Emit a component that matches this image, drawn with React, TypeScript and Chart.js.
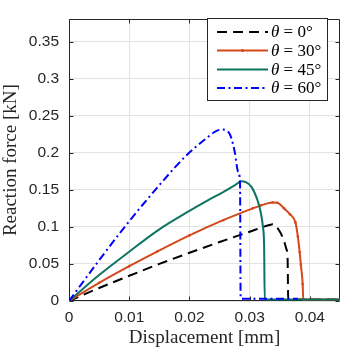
import React, { useEffect, useRef } from "react";
import { Chart, registerables } from "chart.js";

Chart.register(...registerables);

// ---- data ----
const xTicks = [0, 0.01, 0.02, 0.03, 0.04];
const yTicks = [0, 0.05, 0.1, 0.15, 0.2, 0.25, 0.3, 0.35];
const legendAngles = ["0", "30", "45", "60"];

const theta0X = [0, 0.005, 0.01, 0.015, 0.02, 0.025, 0.03, 0.0321, 0.0333, 0.0338, 0.0349, 0.0357, 0.0361, 0.0363, 0.0364, 0.045];
const theta0Y = [0, 0.0175, 0.034, 0.05, 0.065, 0.0795, 0.0935, 0.0995, 0.1025, 0.1035, 0.095, 0.081, 0.07, 0.057, 0.002, 0.002];

const theta30X = [0, 0.005, 0.01, 0.0147, 0.02, 0.0256, 0.0305, 0.0319, 0.0338, 0.0346, 0.0357, 0.0367, 0.0376, 0.038, 0.0383, 0.0385, 0.0388, 0.0389, 0.045];
const theta30Y = [0, 0.0245, 0.047, 0.067, 0.0885, 0.109, 0.125, 0.129, 0.133, 0.1325, 0.125, 0.117, 0.106, 0.087, 0.066, 0.049, 0.023, 0.002, 0.002];

const theta45X = [0, 0.005, 0.01, 0.0147, 0.02, 0.0229, 0.0256, 0.0275, 0.0286, 0.0293, 0.0303, 0.0313, 0.0319, 0.0322, 0.0324, 0.0325, 0.045];
const theta45Y = [0, 0.035, 0.0665, 0.095, 0.1215, 0.135, 0.147, 0.156, 0.1615, 0.1605, 0.154, 0.136, 0.117, 0.1, 0.074, 0.002, 0.002];

const theta60X = [0, 0.005, 0.0092, 0.0122, 0.0155, 0.0174, 0.0193, 0.0225, 0.0245, 0.0254, 0.0267, 0.0275, 0.0281, 0.0284, 0.0285, 0.0288, 0.038];
const theta60Y = [0, 0.055, 0.0994, 0.1295, 0.161, 0.1785, 0.195, 0.2175, 0.2295, 0.2312, 0.225, 0.202, 0.174, 0.159, 0.004, 0.003, 0.003];

const COLORS = ["#000000", "#D5481B", "#0D7462", "#0000FF"];
const DASHES: number[][] = [[10, 6], [], [], [8, 3.5, 2, 3.5]];

const toPts = (xs: number[], ys: number[]) => xs.map((x, i) => ({ x, y: ys[i] }));

const SANS = "'Liberation Sans', Arial, sans-serif";
const SERIF = "'Liberation Serif', 'DejaVu Serif', serif";

const framePlugin = {
  id: "frame",
  beforeDatasetsDraw(chart: any) {
    const { ctx, chartArea: a, scales } = chart;
    ctx.save();
    ctx.strokeStyle = "#262626";
    ctx.lineWidth = 1;
    const L = Math.round(a.left) + 0.5;
    const R = Math.round(a.right) - 0.5;
    const T = Math.round(a.top) + 0.5;
    const B = Math.round(a.bottom) - 0.5;
    ctx.beginPath();
    ctx.rect(L, T, R - L, B - T);
    ctx.stroke();
    const tl = 4;
    ctx.beginPath();
    for (const v of xTicks) {
      const px = Math.round(scales.x.getPixelForValue(v)) + 0.5;
      ctx.moveTo(px, B); ctx.lineTo(px, B - tl);
      ctx.moveTo(px, T); ctx.lineTo(px, T + tl);
    }
    for (const v of yTicks) {
      const py = Math.round(scales.y.getPixelForValue(v)) + 0.5;
      ctx.moveTo(L, py); ctx.lineTo(L + tl, py);
      ctx.moveTo(R, py); ctx.lineTo(R - tl, py);
    }
    ctx.stroke();
    ctx.restore();
  },
  afterDatasetsDraw(chart: any) {
    const { ctx } = chart;
    ctx.save();
    const bx = 207.5, by = 18.5, bw = 120, bh = 82;
    ctx.fillStyle = "#ffffff";
    ctx.fillRect(bx, by, bw, bh);
    ctx.strokeStyle = "#262626";
    ctx.lineWidth = 1;
    ctx.strokeRect(bx, by, bw, bh);
    const rows = [32, 50.5, 69.5, 88];
    rows.forEach((ry, i) => {
      ctx.strokeStyle = COLORS[i];
      ctx.lineWidth = 2;
      ctx.setLineDash(DASHES[i]);
      ctx.beginPath();
      ctx.moveTo(217, ry);
      ctx.lineTo(268, ry);
      ctx.stroke();
      ctx.setLineDash([]);
      if (i === 1) {
        ctx.fillStyle = COLORS[i];
        ctx.beginPath();
        ctx.arc(242.5, ry, 1.6, 0, Math.PI * 2);
        ctx.fill();
      }
      ctx.fillStyle = "#000000";
      ctx.textBaseline = "middle";
      ctx.textAlign = "left";
      ctx.font = `italic 17px ${SERIF}`;
      ctx.fillText("θ", 271, ry + 1);
      const w = ctx.measureText("θ").width;
      ctx.font = `17px ${SERIF}`;
      ctx.fillText(` = ${legendAngles[i]}°`, 271 + w, ry + 1);
    });
    ctx.restore();
  },
};

export default function App() {
  const ref = useRef<HTMLCanvasElement | null>(null);
  useEffect(() => {
    document.body.style.margin = "0";
    const series = [
      toPts(theta0X, theta0Y),
      toPts(theta30X, theta30Y),
      toPts(theta45X, theta45Y),
      toPts(theta60X, theta60Y),
    ];
    const chart = new Chart(ref.current as HTMLCanvasElement, {
      type: "line",
      data: {
        datasets: series.map((d, i) => ({
          label: `θ = ${legendAngles[i]}°`,
          data: d,
          order: 3 - i,
          borderColor: COLORS[i],
          backgroundColor: COLORS[i],
          borderWidth: 2,
          borderDash: DASHES[i],
          pointRadius: i === 1 ? 1.3 : 0,
          pointBorderWidth: 0,
          cubicInterpolationMode: "monotone",
          fill: false,
        })),
      },
      options: {
        animation: false,
        responsive: false,
        devicePixelRatio: 1,
        layout: { padding: { left: 0, right: 1, top: 2, bottom: 0 } },
        plugins: { legend: { display: false }, tooltip: { enabled: false } },
        scales: {
          x: {
            type: "linear",
            min: 0,
            max: 0.045,
            afterBuildTicks: (s: any) => { s.ticks = xTicks.map((v) => ({ value: v })); },
            afterFit: (s: any) => { s.height = 49; },
            ticks: {
              callback: (v: any) => String(v),
              font: { family: SANS, size: 15.5 },
              color: "#262626",
              padding: 7,
              maxRotation: 0,
            },
            grid: { color: "#e3e3e3", drawTicks: false },
            border: { display: false },
            title: {
              display: true,
              text: "Displacement [mm]",
              font: { family: SERIF, size: 19 },
              color: "#262626",
              padding: { top: 0, bottom: 1 },
            },
          },
          y: {
            type: "linear",
            min: 0,
            max: 0.38,
            afterBuildTicks: (s: any) => { s.ticks = yTicks.map((v) => ({ value: v })); },
            afterFit: (s: any) => { s.width = 69; },
            ticks: {
              callback: (v: any) => String(v),
              font: { family: SANS, size: 15.5 },
              color: "#262626",
              padding: 10,
            },
            grid: { color: "#e3e3e3", drawTicks: false },
            border: { display: false },
            title: {
              display: true,
              text: "Reaction force [kN]",
              font: { family: SERIF, size: 19 },
              color: "#262626",
              padding: { top: 0, bottom: 0 },
            },
          },
        },
      },
      plugins: [framePlugin],
    } as any);
    return () => chart.destroy();
  }, []);
  return (
    <div style={{ width: 344, height: 350 }}>
      <canvas ref={ref} width={344} height={350} style={{ display: "block" }} />
    </div>
  );
}
